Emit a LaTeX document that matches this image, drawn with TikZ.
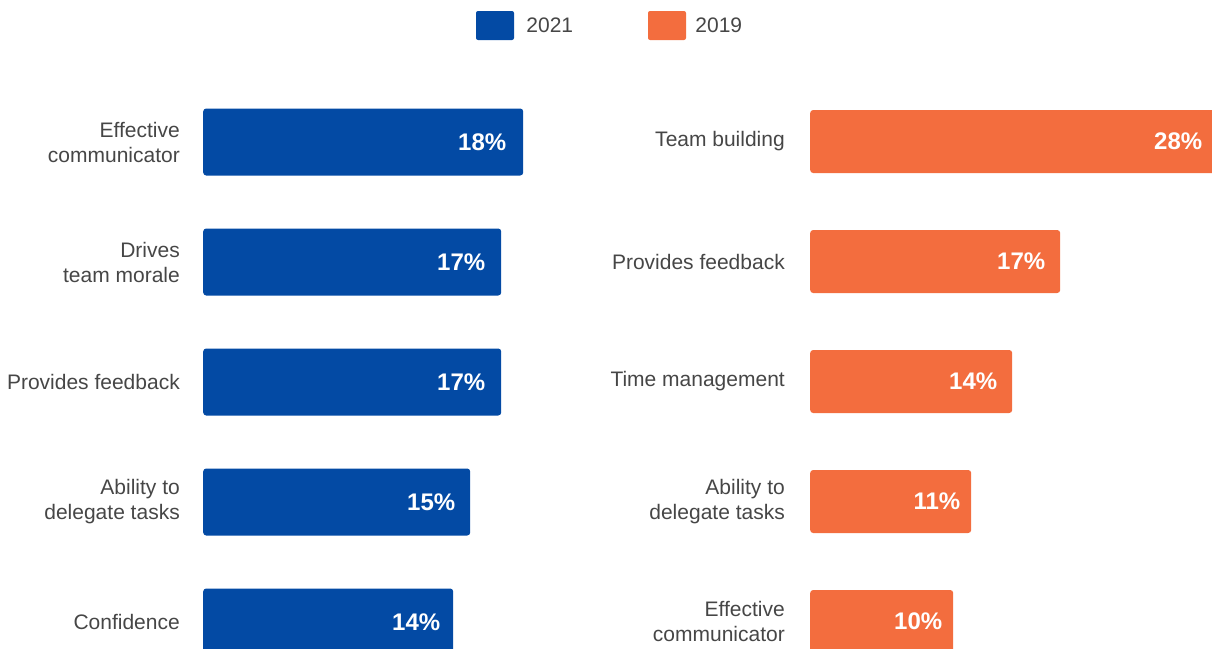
\documentclass[tikz,border=0pt]{standalone}
\usepackage{fontspec}
\setmainfont{Liberation Sans}
\usetikzlibrary{positioning}
\definecolor{bar21}{RGB}{3,74,164}
\definecolor{bar19}{RGB}{243,109,62}
\definecolor{labgray}{RGB}{70,70,70}
\tikzset{
  bar/.style={rounded corners=3pt, inner sep=0pt, anchor=west},
  lbar/.style={bar, fill=bar21, minimum height=67pt},
  rbar/.style={bar, fill=bar19, minimum height=63pt},
  lab/.style={anchor=east, align=right, text=labgray, inner sep=0pt,
    font=\fontsize{21}{25}\selectfont},
  val/.style={anchor=east, text=white, inner sep=0pt,
    font=\fontsize{24}{28}\selectfont\bfseries},
  key/.style={fill=#1, rounded corners=2pt, minimum width=38pt,
    minimum height=29pt, inner sep=0pt}
}

\begin{document}
\begin{tikzpicture}[x=1pt,y=-1pt]
        \useasboundingbox (0,0) rectangle (1212,648);
        \clip (0,0) rectangle (1212,648);
        % legend
        \node[key=bar21] (key-21) at (495,25.5) {};
        \node[lab, right=12pt of key-21] (key-21-text) {2021};
        \node[key=bar19] (key-19) at (667,25.5) {};
        \node[lab, right=9pt of key-19] (key-19-text) {2019};
        % 2021
        \node[lbar, minimum width=320pt] (l-bar1) at (203,142) {};
        \node[val] (l-val1) at ([xshift=-17pt]l-bar1.east) {18\%};
        \node[lab] (l-lab1) at (180,142) {Effective\\communicator};
        \node[lbar, minimum width=298pt] (l-bar2) at (203,262) {};
        \node[val] (l-val2) at ([xshift=-16pt]l-bar2.east) {17\%};
        \node[lab] (l-lab2) at (180,262) {Drives\\team morale};
        \node[lbar, minimum width=298pt] (l-bar3) at (203,382) {};
        \node[val] (l-val3) at ([xshift=-16pt]l-bar3.east) {17\%};
        \node[lab] (l-lab3) at (180,382) {Provides feedback};
        \node[lbar, minimum width=267pt] (l-bar4) at (203,502) {};
        \node[val] (l-val4) at ([xshift=-15pt]l-bar4.east) {15\%};
        \node[lab] (l-lab4) at (180,502) {Ability to\\delegate tasks};
        \node[lbar, minimum width=250pt] (l-bar5) at (203,622) {};
        \node[val] (l-val5) at ([xshift=-13pt]l-bar5.east) {14\%};
        \node[lab] (l-lab5) at (180,622) {Confidence};
        % 2019
        \node[rbar, minimum width=412pt] (r-bar1) at (810,141.5) {};
        \node[val] (r-val1) at ([xshift=-20pt]r-bar1.east) {28\%};
        \node[lab] (r-lab1) at (785,141.5) {Team building};
        \node[rbar, minimum width=250pt] (r-bar2) at (810,261.5) {};
        \node[val] (r-val2) at ([xshift=-15pt]r-bar2.east) {17\%};
        \node[lab] (r-lab2) at (785,261.5) {Provides feedback};
        \node[rbar, minimum width=202pt] (r-bar3) at (810,381.5) {};
        \node[val] (r-val3) at ([xshift=-15pt]r-bar3.east) {14\%};
        \node[lab] (r-lab3) at (785,381.5) {Time management};
        \node[rbar, minimum width=161pt] (r-bar4) at (810,501.5) {};
        \node[val] (r-val4) at ([xshift=-11pt]r-bar4.east) {11\%};
        \node[lab] (r-lab4) at (785,501.5) {Ability to\\delegate tasks};
        \node[rbar, minimum width=143pt] (r-bar5) at (810,621.5) {};
        \node[val] (r-val5) at ([xshift=-11pt]r-bar5.east) {10\%};
        \node[lab] (r-lab5) at (785,621.5) {Effective\\communicator};
\end{tikzpicture}
\end{document}
